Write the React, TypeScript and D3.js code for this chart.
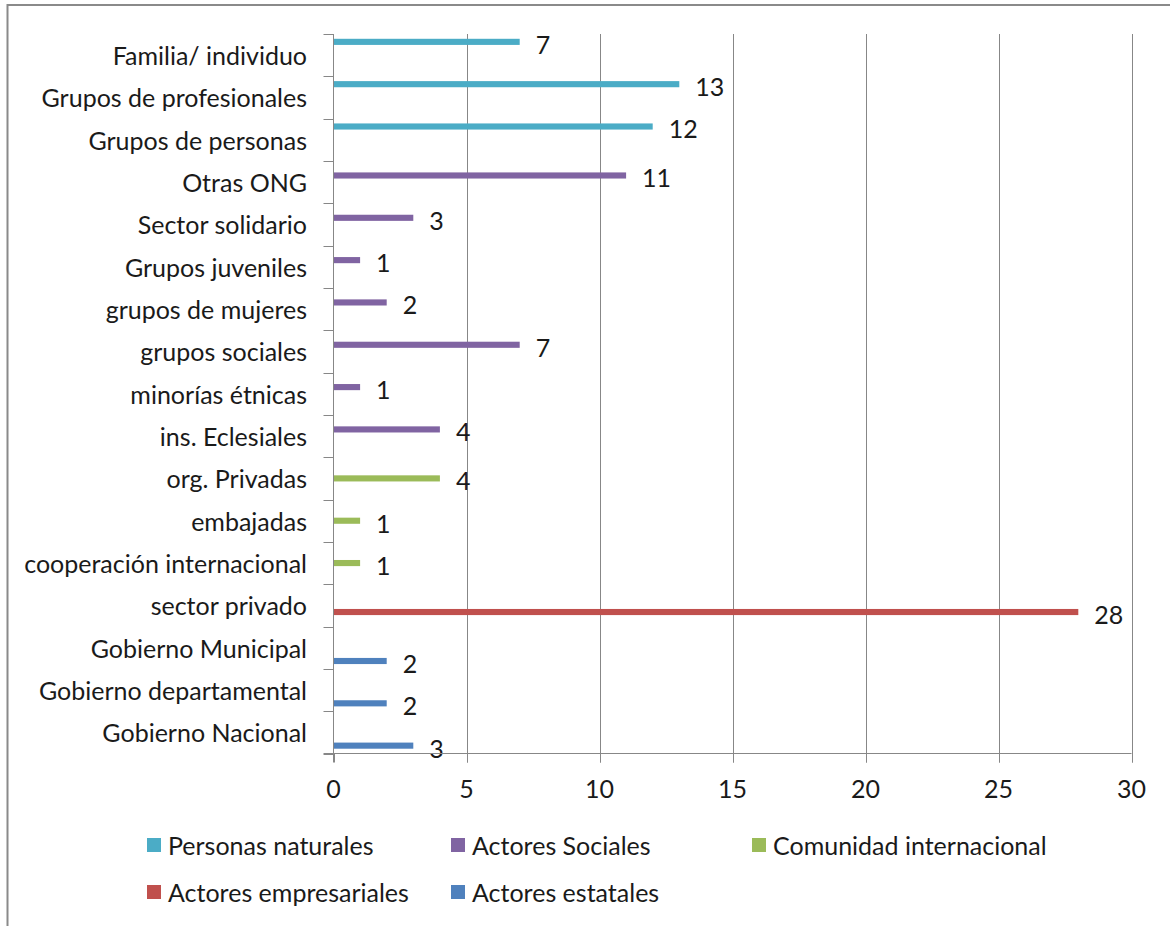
import React from "react";
import * as d3 from "d3";

const categories = [
  "Familia/ individuo",
  "Grupos de profesionales",
  "Grupos de personas",
  "Otras ONG",
  "Sector solidario",
  "Grupos juveniles",
  "grupos de mujeres",
  "grupos sociales",
  "minorías étnicas",
  "ins. Eclesiales",
  "org. Privadas",
  "embajadas",
  "cooperación internacional",
  "sector privado",
  "Gobierno Municipal",
  "Gobierno departamental",
  "Gobierno Nacional",
];

const seriesNames = [
  "Personas naturales",
  "Actores Sociales",
  "Comunidad internacional",
  "Actores empresariales",
  "Actores estatales",
];

const seriesColors = ["#4BACC6", "#8064A2", "#9BBB59", "#C0504D", "#4F81BD"];

const personasNaturales = [7, 13, 12, null, null, null, null, null, null, null, null, null, null, null, null, null, null];
const actoresSociales = [null, null, null, 11, 3, 1, 2, 7, 1, 4, null, null, null, null, null, null, null];
const comunidadInternacional = [null, null, null, null, null, null, null, null, null, null, 4, 1, 1, null, null, null, null];
const actoresEmpresariales = [null, null, null, null, null, null, null, null, null, null, null, null, null, 28, null, null, null];
const actoresEstatales = [null, null, null, null, null, null, null, null, null, null, null, null, null, null, 2, 2, 3];

const seriesValues = [personasNaturales, actoresSociales, comunidadInternacional, actoresEmpresariales, actoresEstatales];

const xTicks = [0, 5, 10, 15, 20, 25, 30];

const FONT = "Lato, 'Open Sans', sans-serif";
const FS = 25;
const TEXT = "#1a1a1a";
const GRID = "#878787";

export default function App() {
  const W = 1170;
  const H = 926;
  const left = 333.5;
  const right = 1131.5;
  const top = 34;
  const bottom = 753.5;

  const x = d3.scaleLinear().domain([0, 30]).range([left, right]);
  const y = d3.scaleBand<string>().domain(categories).range([top, bottom]).paddingInner(0).paddingOuter(0);
  const inner = d3
    .scaleBand<string>()
    .domain(seriesNames)
    .range([0, y.bandwidth()])
    .paddingInner(0.08)
    .paddingOuter(0.72);

  const bandEdges = categories.map((c) => y(c) as number).concat([bottom]);

  const legendItems = [
    { name: seriesNames[0], color: seriesColors[0], x: 147, y: 845 },
    { name: seriesNames[1], color: seriesColors[1], x: 451, y: 845 },
    { name: seriesNames[2], color: seriesColors[2], x: 752, y: 845 },
    { name: seriesNames[3], color: seriesColors[3], x: 147, y: 892 },
    { name: seriesNames[4], color: seriesColors[4], x: 451, y: 892 },
  ];

  return (
    <svg width={W} height={H} style={{ display: "block", position: "absolute", left: 0, top: 0 }} fontFamily={FONT}>
      <rect x={0} y={0} width={W} height={H} fill="#fff" />
      {/* outer frame */}
      <line x1={7} y1={5} x2={W} y2={5} stroke="#8a8a8a" strokeWidth={2} />
      <line x1={7.5} y1={4} x2={7.5} y2={H} stroke="#8a8a8a" strokeWidth={2} />

      {/* vertical gridlines */}
      {xTicks.slice(1).map((t) => (
        <line key={"g" + t} x1={Math.round(x(t)) + 0.5} x2={Math.round(x(t)) + 0.5} y1={top} y2={bottom + 9} stroke={GRID} strokeWidth={1} />
      ))}

      {/* bars */}
      {seriesValues.map((vals, si) =>
        vals.map((v, ci) =>
          v == null ? null : (
            <rect
              key={si + "-" + ci}
              x={x(0)}
              y={(y(categories[ci]) as number) + (inner(seriesNames[si]) as number)}
              width={x(v) - x(0)}
              height={inner.bandwidth()}
              fill={seriesColors[si]}
            />
          )
        )
      )}

      {/* data labels */}
      {seriesValues.map((vals, si) =>
        vals.map((v, ci) =>
          v == null ? null : (
            <text
              key={"l" + si + "-" + ci}
              x={x(v) + 16}
              y={(y(categories[ci]) as number) + (inner(seriesNames[si]) as number) + inner.bandwidth() / 2 + 2}
              dominantBaseline="central"
              fontSize={FS}
              fill={TEXT}
            >
              {v}
            </text>
          )
        )
      )}

      {/* y axis */}
      <line x1={left} x2={left} y1={top} y2={bottom + 9} stroke={GRID} strokeWidth={1} />
      {bandEdges.map((e, i) => (
        <line key={"yt" + i} x1={left - 10} x2={left} y1={Math.round(e) + 0.5} y2={Math.round(e) + 0.5} stroke={GRID} strokeWidth={1} />
      ))}
      {categories.map((c) => (
        <text
          key={"c" + c}
          x={307}
          y={(y(c) as number) + y.bandwidth() / 2}
          textAnchor="end"
          dominantBaseline="central"
          fontSize={FS}
          fill={TEXT}
        >
          {c}
        </text>
      ))}

      {/* x axis */}
      <line x1={left - 10} x2={right} y1={bottom} y2={bottom} stroke={GRID} strokeWidth={1} />
      {xTicks.map((t) => (
        <line key={"xt" + t} x1={Math.round(x(t)) + 0.5} x2={Math.round(x(t)) + 0.5} y1={bottom} y2={bottom + 9} stroke={GRID} strokeWidth={1} />
      ))}
      {xTicks.map((t) => (
        <text key={"xl" + t} x={x(t)} y={788} textAnchor="middle" dominantBaseline="central" fontSize={FS} fill={TEXT}>
          {t}
        </text>
      ))}

      {/* legend */}
      {legendItems.map((it) => (
        <g key={"lg" + it.name}>
          <rect x={it.x} y={it.y - 7} width={14} height={14} fill={it.color} />
          <text x={it.x + 21} y={it.y} dominantBaseline="central" fontSize={FS} fill={TEXT}>
            {it.name}
          </text>
        </g>
      ))}
    </svg>
  );
}
